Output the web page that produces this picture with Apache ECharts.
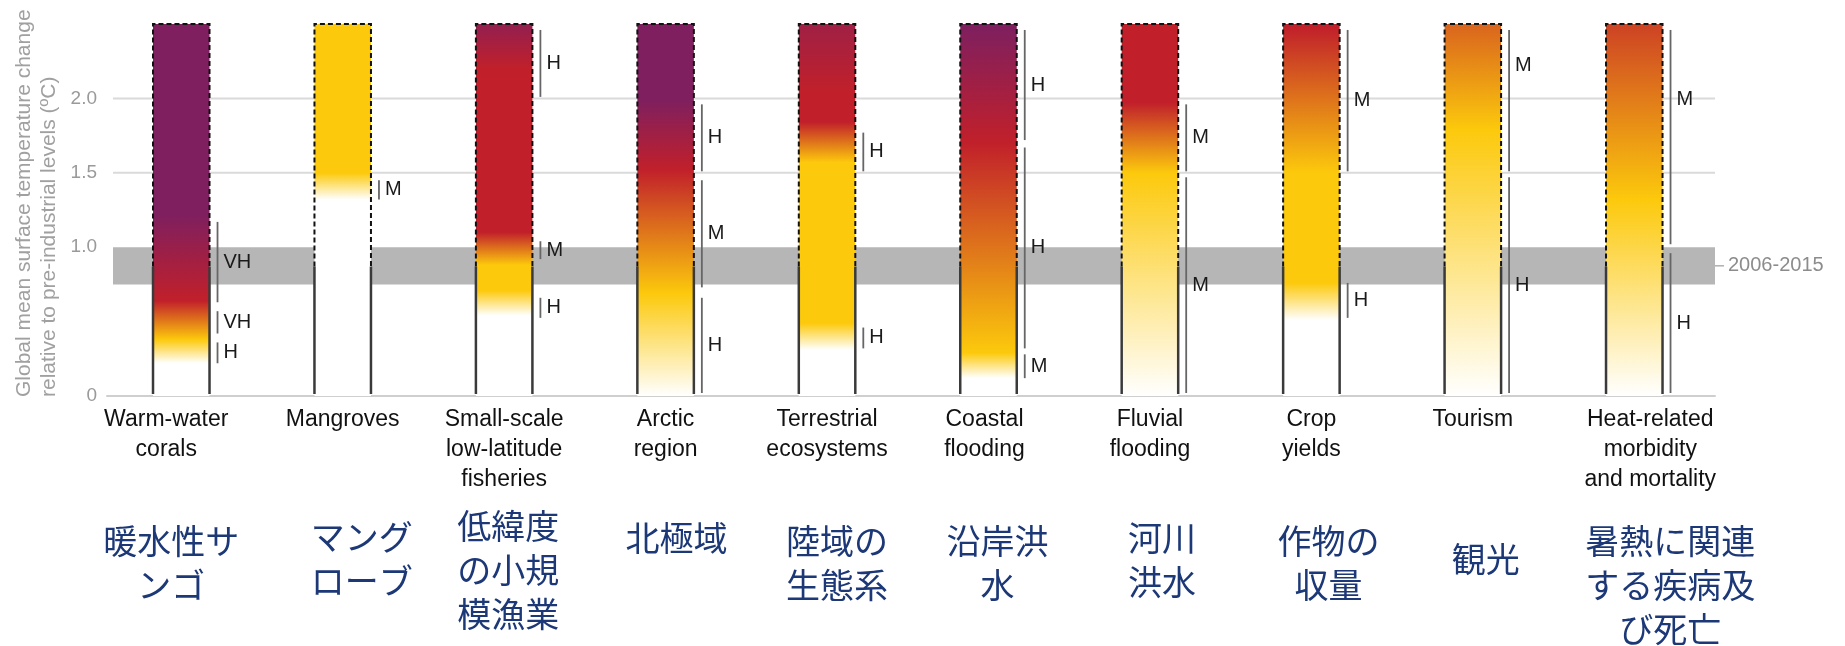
<!DOCTYPE html>
<html>
<head>
<meta charset="utf-8">
<script src="https://cdn.jsdelivr.net/npm/echarts@6/dist/echarts.min.js"></script>
<style>
  html, body { margin: 0; padding: 0; background: #ffffff; }
  #chart { width: 1845px; height: 646px; }
</style>
</head>
<body>
<div id="chart"></div>
<script>
// Risk from climate change for selected natural, managed and human systems

const categoriesEn = [
  'Warm-water\ncorals', 'Mangroves', 'Small-scale\nlow-latitude\nfisheries', 'Arctic\nregion',
  'Terrestrial\necosystems', 'Coastal\nflooding', 'Fluvial\nflooding', 'Crop\nyields',
  'Tourism', 'Heat-related\nmorbidity\nand mortality'
];
const categoriesJa = [
  '暖水性サ\nンゴ', 'マング\nローブ', '低緯度\nの小規\n模漁業', '北極域', '陸域の\n生態系',
  '沿岸洪\n水', '河川\n洪水', '作物の\n収量', '観光', '暑熱に関連\nする疾病及\nび死亡'
];

// Risk level against warming: [°C, level]; 0 undetectable, 1 moderate, 2 high, 3 very high
const riskCorals      = [[0.22, 0], [0.38, 1], [0.64, 2], [1.22, 3]];
const riskMangroves   = [[1.32, 0], [1.50, 1]];
const riskFisheries   = [[0.54, 0], [0.71, 1], [0.88, 1], [1.10, 2], [2.20, 2], [2.50, 2.7]];
const riskArctic      = [[0.00, 0], [0.69, 1], [1.52, 2], [1.99, 3]];
const riskTerrestrial = [[0.31, 0], [0.49, 1], [1.57, 1], [1.84, 2], [2.04, 2], [2.50, 2.5]];
const riskCoastal     = [[0.12, 0], [0.29, 1], [1.70, 2], [2.48, 3]];
const riskFluvial     = [[0.00, 0], [1.50, 1], [1.97, 2]];
const riskCrop        = [[0.51, 0], [0.76, 1], [1.50, 1], [2.48, 2]];
const riskTourism     = [[0.00, 0], [1.79, 1], [2.50, 1.6]];
const riskHeat        = [[0.00, 0], [1.32, 1], [2.50, 1.8]];

// Confidence in each transition: [from °C, to °C, confidence]
const confCorals      = [[0.22, 0.36, 'H'], [0.42, 0.57, 'VH'], [0.63, 1.17, 'VH']];
const confMangroves   = [[1.32, 1.45, 'M']];
const confFisheries   = [[0.525, 0.66, 'H'], [0.92, 1.04, 'M'], [2.01, 2.46, 'H']];
const confArctic      = [[0.02, 0.66, 'H'], [0.73, 1.45, 'M'], [1.51, 1.96, 'H']];
const confTerrestrial = [[0.32, 0.46, 'H'], [1.51, 1.77, 'H']];
const confCoastal     = [[0.12, 0.28, 'M'], [0.32, 1.67, 'H'], [1.72, 2.46, 'H']];
const confFluvial     = [[0.02, 1.47, 'M'], [1.51, 1.96, 'M']];
const confCrop        = [[0.525, 0.76, 'H'], [1.51, 2.46, 'M']];
const confTourism     = [[0.02, 1.47, 'H'], [1.51, 2.46, 'M']];
const confHeat        = [[0.02, 0.96, 'H'], [1.02, 2.46, 'M']];

const tickLabels = { 0: '0', 1: '1.0', 1.5: '1.5', 2: '2.0' };
const gridValues = [1.5, 2.0];
const observedRange = [0.75, 1.0];
const observedLabel = '2006-2015';
const presentWarming = 0.87;
const axisMax = 2.5;
const yTitle = ['Global mean surface temperature change', 'relative to pre-industrial levels (ºC)'];

const riskSeries = [riskCorals, riskMangroves, riskFisheries, riskArctic, riskTerrestrial,
  riskCoastal, riskFluvial, riskCrop, riskTourism, riskHeat];
const confSeries = [confCorals, confMangroves, confFisheries, confArctic, confTerrestrial,
  confCoastal, confFluvial, confCrop, confTourism, confHeat];

// ---- styling / layout ----
const FONT = "'Liberation Sans', Arial, sans-serif";
const FONT_JA = "'Noto Sans CJK JP', sans-serif";
const palette = ['#ffffff', '#fcc90c', '#c1202a', '#7f1f5f'];
const barWidth = 0.35;                       // in category units
const enShift = [-15, 0, 0, 0, 0, -4, 0, 0, 0, 16];
const jaShift = [-10, 19, 4, 11, 10, 9, 12, 17, 13, 36];
const jaFirstLine = [145, 141, 130, 142, 145, 145, 142, 145, 163, 145];
const confLabelAt = { '8-1': 2.22, '9-1': 1.99 };

function hexRgb(h) {
  return [parseInt(h.slice(1, 3), 16), parseInt(h.slice(3, 5), 16), parseInt(h.slice(5, 7), 16)];
}
function levelColor(level) {
  const i = Math.max(0, Math.min(Math.floor(level), palette.length - 2));
  const t = Math.max(0, Math.min(1, level - i));
  const a = hexRgb(palette[i]), b = hexRgb(palette[i + 1]);
  const c = a.map((v, k) => Math.round(v + (b[k] - v) * t));
  return 'rgb(' + c.join(',') + ')';
}

const chart = echarts.init(document.getElementById('chart'), null, { renderer: 'canvas' });

function renderBackdrop(params, api) {
  const cs = params.coordSys;
  const x0 = cs.x + 6, x1 = cs.x + cs.width;
  const children = gridValues.map(v => {
    const y = api.coord([0, v])[1];
    return { type: 'line', shape: { x1: x0, y1: y, x2: x1, y2: y },
      style: { stroke: '#dadada', lineWidth: 2 } };
  });
  const yTop = api.coord([0, observedRange[1]])[1];
  const yBot = api.coord([0, observedRange[0]])[1];
  children.push({ type: 'rect', shape: { x: x0, y: yTop, width: x1 - x0, height: yBot - yTop },
    style: { fill: '#b6b6b6' } });
  const yMid = (yTop + yBot) / 2;
  children.push({ type: 'line', shape: { x1: x1, y1: yMid, x2: x1 + 9, y2: yMid },
    style: { stroke: '#b0b0b0', lineWidth: 1.5 } });
  children.push({ type: 'text', x: x1 + 13, y: yMid,
    style: { text: observedLabel, fill: '#8c8c8c', fontSize: 20, fontFamily: FONT,
      align: 'left', verticalAlign: 'middle' } });
  return { type: 'group', children };
}

function renderBar(params, api) {
  const i = api.value(0);
  const base = api.coord([i, 0]);
  const cx = base[0], yBase = base[1];
  const yTop = api.coord([i, axisMax])[1];
  const yNow = api.coord([i, presentWarming])[1];
  const w = api.size([barWidth, 0])[0];
  const xl = cx - w / 2, xr = cx + w / 2;

  const stops = riskSeries[i].map(([t, l]) => ({ offset: t / axisMax, color: levelColor(l) }));
  if (stops[0].offset > 0) stops.unshift({ offset: 0, color: stops[0].color });
  if (stops[stops.length - 1].offset < 1) stops.push({ offset: 1, color: stops[stops.length - 1].color });

  const children = [];
  children.push({ type: 'rect', shape: { x: xl, y: yTop, width: w, height: yBase - yTop },
    style: { fill: { type: 'linear', x: 0, y: 1, x2: 0, y2: 0, colorStops: stops } } });
  // projected part: dashed outline
  children.push({ type: 'polyline',
    shape: { points: [[xl, yNow], [xl, yTop], [xr, yTop], [xr, yNow]] },
    style: { stroke: '#111111', lineWidth: 2, lineDash: [5, 3], fill: null } });
  // observed part: solid sides
  [xl, xr].forEach(x => children.push({ type: 'line',
    shape: { x1: x, y1: yNow, x2: x, y2: yBase - 2 },
    style: { stroke: '#3a3a3a', lineWidth: 2.5 } }));

  // confidence markers
  const mx = xr + 8;
  confSeries[i].forEach(([a, b, c], k) => {
    const ya = api.coord([i, a])[1], yb = api.coord([i, b])[1];
    children.push({ type: 'line', shape: { x1: mx, y1: ya, x2: mx, y2: yb },
      style: { stroke: '#666666', lineWidth: 1.8 } });
    const at = confLabelAt[i + '-' + k];
    const yl = at !== undefined ? api.coord([i, at])[1] : (ya + yb) / 2;
    children.push({ type: 'text', x: mx + 6, y: yl,
      style: { text: c, fill: '#1a1a1a', fontSize: 20, fontFamily: FONT,
        align: 'left', verticalAlign: 'middle' } });
  });

  // category names
  children.push({ type: 'text', x: cx + enShift[i], y: yBase + 9,
    style: { text: categoriesEn[i], fill: '#111111', fontSize: 23, fontFamily: FONT,
      lineHeight: 30, align: 'center', verticalAlign: 'top' } });
  children.push({ type: 'text', x: cx + jaShift[i], y: yBase + jaFirstLine[i] - 22,
    style: { text: categoriesJa[i], fill: '#1c3877', fontSize: 34, fontFamily: FONT_JA,
      lineHeight: 44, align: 'center', verticalAlign: 'top' } });

  return { type: 'group', children };
}

const option = {
  backgroundColor: '#ffffff',
  animation: false,
  grid: { left: 107, right: 130, top: 24, bottom: 250, containLabel: false },
  xAxis: {
    type: 'value', min: -0.46, max: 9.5,
    axisLine: { show: true, onZero: false, lineStyle: { color: '#cfcfcf', width: 2 } },
    axisTick: { show: false }, axisLabel: { show: false }, splitLine: { show: false }
  },
  yAxis: {
    type: 'value', min: 0, max: axisMax, interval: 0.5,
    axisLine: { show: false }, axisTick: { show: false }, splitLine: { show: false },
    axisLabel: {
      margin: 10, color: '#9a9a9a', fontSize: 19, fontFamily: FONT,
      formatter: v => (tickLabels[v] !== undefined ? tickLabels[v] : '')
    }
  },
  graphic: yTitle.map((t, k) => ({
    type: 'text', x: 24 + k * 25, y: 397, rotation: Math.PI / 2,
    style: { text: t, fill: '#a0a0a0', fontSize: 21, fontFamily: FONT,
      align: 'left', verticalAlign: 'middle' }
  })),
  series: [
    { type: 'custom', name: 'backdrop', z: 1, clip: false, silent: true,
      renderItem: renderBackdrop, data: [[0]] },
    { type: 'custom', name: 'risk', z: 3, clip: false, silent: true,
      renderItem: renderBar, data: categoriesEn.map((_, i) => [i]) }
  ]
};

chart.setOption(option);
</script>
</body>
</html>
